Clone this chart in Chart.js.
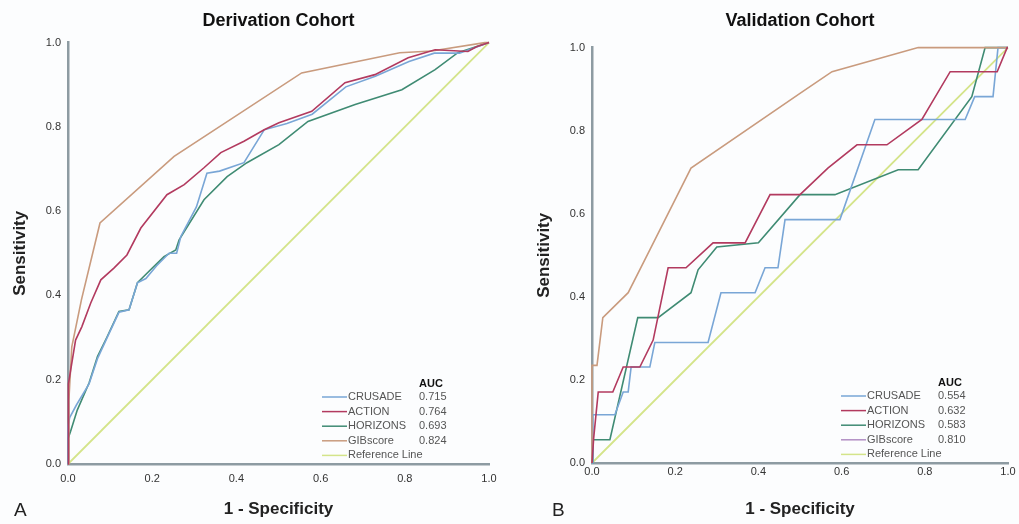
<!DOCTYPE html>
<html>
<head>
<meta charset="utf-8">
<title>ROC curves</title>
<script src="https://cdn.jsdelivr.net/npm/chart.js@4.4.1/dist/chart.umd.min.js"></script>
<style>
  html, body { margin: 0; padding: 0; background: #fcfdfe; }
  .panel { position: absolute; top: 0; }
  #panelA { left: 0; width: 510px; height: 524px; }
  #panelB { left: 510px; width: 509px; height: 524px; }
</style>
</head>
<body>
<div class="panel" id="panelA"><canvas id="chartA" width="510" height="524"></canvas></div>
<div class="panel" id="panelB"><canvas id="chartB" width="509" height="524"></canvas></div>
<script>
// series names + AUC column
const SERIES = ['CRUSADE', 'ACTION', 'HORIZONS', 'GIBscore', 'Reference Line'];
const aucDerivation = ['0.715', '0.764', '0.693', '0.824'];
const aucValidation = ['0.554', '0.632', '0.583', '0.810'];
const tickValues = [0, 0.2, 0.4, 0.6, 0.8, 1.0];

// --- Derivation cohort (1 - specificity / sensitivity) ---
const derivCrusadeX = [0, 0, 0.004, 0.02, 0.05, 0.07, 0.093, 0.121, 0.145, 0.165, 0.185, 0.21, 0.24, 0.258, 0.268, 0.305, 0.33, 0.36, 0.418, 0.466, 0.52, 0.58, 0.66, 0.73, 0.81, 0.87, 0.93, 1];
const derivCrusadeY = [0, 0.09, 0.11, 0.14, 0.19, 0.25, 0.3, 0.36, 0.366, 0.43, 0.44, 0.47, 0.5, 0.5, 0.54, 0.61, 0.69, 0.695, 0.715, 0.793, 0.808, 0.83, 0.895, 0.92, 0.955, 0.975, 0.975, 1];
const derivActionX = [0, 0, 0.002, 0.018, 0.033, 0.054, 0.078, 0.109, 0.14, 0.173, 0.235, 0.276, 0.323, 0.363, 0.418, 0.466, 0.501, 0.579, 0.658, 0.729, 0.808, 0.872, 0.95, 0.97, 1];
const derivActionY = [0, 0.14, 0.19, 0.294, 0.326, 0.382, 0.437, 0.465, 0.496, 0.56, 0.639, 0.663, 0.703, 0.739, 0.766, 0.793, 0.81, 0.837, 0.905, 0.924, 0.964, 0.983, 0.979, 0.99, 1];
const derivHorizonsX = [0, 0, 0.006, 0.022, 0.05, 0.07, 0.093, 0.121, 0.145, 0.165, 0.196, 0.228, 0.256, 0.264, 0.323, 0.378, 0.425, 0.501, 0.57, 0.682, 0.793, 0.872, 0.926, 1];
const derivHorizonsY = [0, 0.06, 0.077, 0.128, 0.192, 0.255, 0.302, 0.362, 0.366, 0.43, 0.461, 0.492, 0.508, 0.532, 0.627, 0.682, 0.715, 0.758, 0.813, 0.853, 0.888, 0.936, 0.976, 1];
const derivGibX = [0, 0.002, 0.009, 0.032, 0.076, 0.252, 0.555, 0.788, 0.864, 0.99, 1];
const derivGibY = [0, 0.15, 0.278, 0.39, 0.572, 0.73, 0.928, 0.976, 0.98, 1, 1];
const derivRefX = [0, 1];
const derivRefY = [0, 1];

// --- Validation cohort ---
const validCrusadeX = [0, 0.002, 0.055, 0.075, 0.087, 0.094, 0.139, 0.151, 0.279, 0.31, 0.392, 0.416, 0.447, 0.464, 0.596, 0.68, 0.897, 0.92, 0.964, 0.976, 1];
const validCrusadeY = [0, 0.116, 0.116, 0.171, 0.171, 0.231, 0.231, 0.29, 0.29, 0.41, 0.41, 0.47, 0.47, 0.586, 0.586, 0.827, 0.827, 0.882, 0.882, 1, 1];
const validActionX = [0, 0.004, 0.015, 0.05, 0.075, 0.115, 0.147, 0.183, 0.226, 0.291, 0.368, 0.428, 0.5, 0.567, 0.637, 0.709, 0.793, 0.861, 0.974, 0.998, 1];
const validActionY = [0, 0.06, 0.171, 0.171, 0.231, 0.231, 0.296, 0.47, 0.47, 0.53, 0.53, 0.646, 0.646, 0.71, 0.766, 0.766, 0.827, 0.942, 0.942, 1, 1];
const validHorizonsX = [0, 0.002, 0.043, 0.11, 0.159, 0.238, 0.255, 0.30, 0.40, 0.5, 0.584, 0.736, 0.784, 0.913, 0.945, 1];
const validHorizonsY = [0, 0.056, 0.056, 0.35, 0.35, 0.41, 0.465, 0.52, 0.53, 0.646, 0.646, 0.706, 0.706, 0.882, 1, 1];
const validGibX = [0, 0, 0.012, 0.026, 0.087, 0.139, 0.238, 0.5, 0.577, 0.784, 1];
const validGibY = [0, 0.235, 0.235, 0.35, 0.41, 0.513, 0.71, 0.89, 0.942, 1, 1];
const validRefX = [0, 1];
const validRefY = [0, 1];

const COLORS = ['#79a6d6', '#b23a5f', '#3f8b73', '#c99b7e', '#d4e48a'];
const FONT = '"Liberation Sans", Arial, sans-serif';

function toPoints(xs, ys) {
    return xs.map((x, i) => ({ x: x, y: ys[i] }));
}

// legend with AUC column + panel letter (A / B)
const aucLegend = {
    id: 'aucLegend',
    afterDraw(chart, args, o) {
        const { ctx, chartArea: { right, bottom } } = chart;
        ctx.save();
        ctx.textBaseline = 'middle';
        ctx.font = 'bold 11px ' + FONT;
        ctx.fillStyle = '#111';
        ctx.fillText('AUC', right - 70, bottom - 80);
        ctx.font = '11px ' + FONT;
        SERIES.forEach((name, i) => {
            const y = bottom - 67 + i * 14.6;
            ctx.strokeStyle = o.swatches[i];
            ctx.lineWidth = 1.5;
            ctx.beginPath();
            ctx.moveTo(right - 167, y);
            ctx.lineTo(right - 142, y);
            ctx.stroke();
            ctx.fillStyle = '#555';
            ctx.fillText(name, right - 141, y);
            if (o.auc[i]) ctx.fillText(o.auc[i], right - 70, y);
        });
        ctx.font = '19px ' + FONT;
        ctx.fillStyle = '#222';
        ctx.fillText(o.letter, o.letterX, 511);
        ctx.restore();
    }
};

function makeChart(id, cfg) {
    const datasets = cfg.series.map((s, i) => ({
        label: SERIES[i],
        data: toPoints(s[0], s[1]),
        borderColor: COLORS[i],
        borderWidth: i === 4 ? 1.8 : 1.6,
        pointRadius: 0,
        tension: 0,
        fill: false,
        clip: false,
        order: [3, 1, 4, 2, 5][i]
    }));

    return new Chart(document.getElementById(id), {
        type: 'line',
        data: { datasets: datasets },
        plugins: [aucLegend],
        options: {
            responsive: false,
            animation: false,
            layout: { padding: cfg.padding },
            plugins: {
                legend: { display: false },
                tooltip: { enabled: false },
                title: {
                    display: true,
                    text: cfg.title,
                    fullSize: false,
                    color: '#111',
                    font: { family: FONT, size: 18, weight: 'bold' },
                    padding: { top: 10, bottom: cfg.titleGap }
                },
                aucLegend: { auc: cfg.auc, swatches: cfg.swatches, letter: cfg.letter, letterX: cfg.letterX }
            },
            scales: {
                x: {
                    type: 'linear', min: 0, max: 1,
                    afterBuildTicks: s => { s.ticks = tickValues.map(v => ({ value: v })); },
                    afterFit: s => { s.height = cfg.xHeight; },
                    grid: { display: false, drawTicks: false },
                    border: { display: true, color: '#8d9ba2', width: 2.5 },
                    ticks: { callback: v => v.toFixed(1), padding: cfg.xTickPad, maxRotation: 0, color: '#333', font: { family: FONT, size: 11 } },
                    title: { display: true, text: '1 - Specificity', color: '#222', font: { family: FONT, size: 17, weight: 'bold' }, padding: { bottom: 4 } }
                },
                y: {
                    type: 'linear', min: 0, max: 1,
                    afterBuildTicks: s => { s.ticks = tickValues.map(v => ({ value: v })); },
                    afterFit: s => { s.width = 68; },
                    grid: { display: false, drawTicks: false },
                    border: { display: true, color: '#8d9ba2', width: 2.5 },
                    ticks: { callback: v => v.toFixed(1), padding: 7, color: '#333', font: { family: FONT, size: 11 } },
                    title: { display: true, text: 'Sensitivity', color: '#222', font: { family: FONT, size: 17, weight: 'bold' }, padding: { top: 10 } }
                }
            }
        }
    });
}

makeChart('chartA', {
    title: 'Derivation Cohort',
    letter: 'A', letterX: 14,
    auc: aucDerivation,
    swatches: COLORS,
    series: [[derivCrusadeX, derivCrusadeY], [derivActionX, derivActionY], [derivHorizonsX, derivHorizonsY], [derivGibX, derivGibY], [derivRefX, derivRefY]],
    padding: { left: 0, right: 21, top: 0, bottom: 0 },
    titleGap: 11,
    xHeight: 60,
    xTickPad: 8
});

makeChart('chartB', {
    title: 'Validation Cohort',
    letter: 'B', letterX: 42,
    auc: aucValidation,
    swatches: ['#79a6d6', '#b23a5f', '#3f8b73', '#b28fc4', '#d4e48a'],
    series: [[validCrusadeX, validCrusadeY], [validActionX, validActionY], [validHorizonsX, validHorizonsY], [validGibX, validGibY], [validRefX, validRefY]],
    padding: { left: 14, right: 11, top: 0, bottom: 0 },
    titleGap: 16,
    xHeight: 61,
    xTickPad: 2
});
</script>
</body>
</html>
